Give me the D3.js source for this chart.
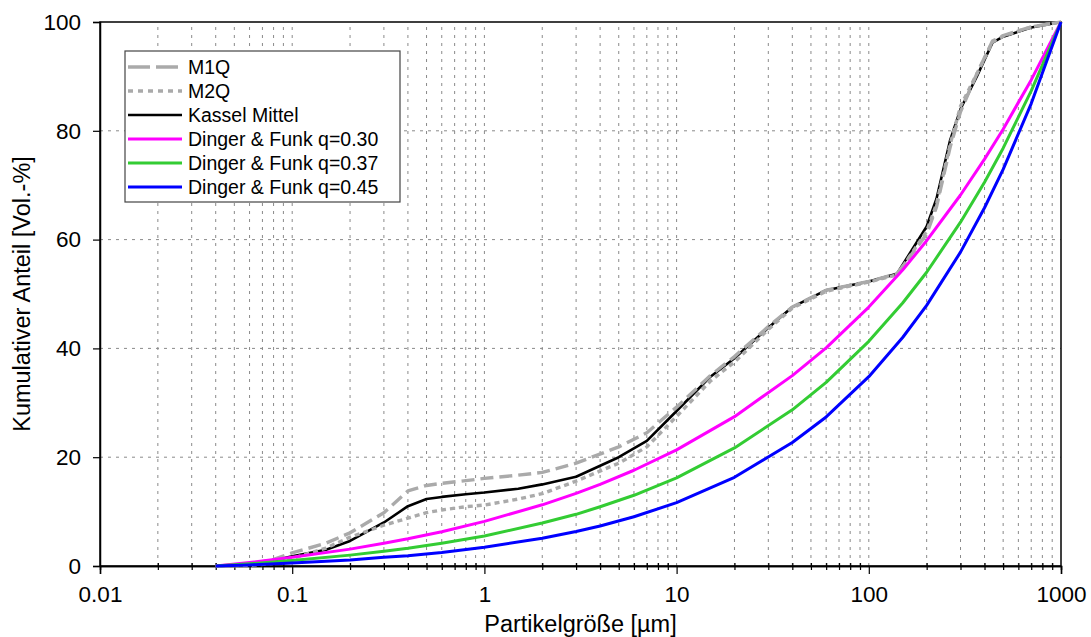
<!DOCTYPE html>
<html><head><meta charset="utf-8">
<script src="https://cdn.jsdelivr.net/npm/d3@7"></script>
<style>
html,body{margin:0;padding:0;background:#fff;}
svg{display:block;font-family:"Liberation Sans",Arial,Helvetica,sans-serif;}
</style></head>
<body>
<svg id="chart" width="1091" height="637"></svg>
<script>
// ---- data ----
const measuredSizes = [0.04,0.06,0.08,0.1,0.15,0.2,0.3,0.4,0.5,0.6,0.8,1,1.5,2,3,5,7,10,15,20,30,40,60,100,140,200,225,265,300,365,440,500,700,1000];
const kasselMittel = [0,0.4,1.0,1.8,3.0,4.6,8.0,11.0,12.3,12.7,13.2,13.5,14.2,15.0,16.4,20.0,23.0,28.5,34.8,38.2,43.8,47.6,50.7,52.3,53.7,62.4,67.5,78.3,84.0,90.0,96.2,97.3,99.0,100];
const m1q = [0,0.3,1.2,2.4,4.2,6.1,9.8,13.8,14.8,15.2,15.7,16.1,16.7,17.2,18.9,21.9,24.5,29.2,35.0,38.5,44.0,47.6,50.7,52.3,53.7,61.0,66.0,77.0,83.5,90.5,96.5,97.5,99.1,100];
const m2q = [0,0.1,0.5,1.4,3.3,5.3,7.5,8.8,9.8,10.3,10.9,11.2,12.3,13.3,15.6,18.9,21.9,27.5,34.0,37.5,43.5,47.4,50.5,52.2,53.5,61.5,66.5,77.5,84.5,90.5,96.3,97.4,99.1,100];

const dfSizes = [0.04,0.06,0.1,0.2,0.3,0.4,0.6,1,2,3,4,6,10,20,40,60,100,150,200,300,400,500,700,1000];
const df030 = [0,0.65,1.6,3.1,4.2,5.0,6.3,8.2,11.25,13.35,15.0,17.6,21.35,27.45,35.0,40.1,47.6,54.4,59.8,68.2,74.8,80.3,89.35,100];
const df037 = [0,0.4,1.0,2.0,2.7,3.25,4.2,5.5,7.9,9.5,10.9,13.0,16.2,21.7,28.7,33.75,41.3,48.35,54.0,63.2,70.55,76.8,87.35,100];
const df045 = [0,0.2,0.55,1.1,1.6,1.9,2.5,3.45,5.1,6.35,7.35,9.05,11.65,16.3,22.7,27.4,34.8,42.0,47.9,57.7,65.85,72.9,85.0,100];

const xMajorTicks = [0.01,0.1,1,10,100,1000];
const xTickLabels = ["0.01","0.1","1","10","100","1000"];
const yTicks = [0,20,40,60,80,100];

const seriesNames = ["M1Q","M2Q","Kassel Mittel","Dinger & Funk q=0.30","Dinger & Funk q=0.37","Dinger & Funk q=0.45"];

// ---- chart ----
const svg = d3.select("#chart");
const x = d3.scaleLog().domain([0.01,1000]).range([100,1061]);
const y = d3.scaleLinear().domain([0,100]).range([566,22]);

const minorTicks = [];
[0.01,0.1,1,10,100].forEach(b=>{for(let k=2;k<=9;k++) minorTicks.push(+(b*k).toPrecision(3));});

const gridColor = "#8a8a8a";
const grid = svg.append("g");
grid.selectAll("line.vx").data(minorTicks.concat(xMajorTicks.slice(1,-1))).join("line")
  .attr("x1",d=>x(d)).attr("x2",d=>x(d)).attr("y1",y(0)).attr("y2",y(100))
  .attr("stroke",gridColor).attr("stroke-width",1).attr("stroke-dasharray","3,5");
grid.selectAll("line.hy").data(yTicks.slice(1,-1)).join("line")
  .attr("x1",x(0.01)).attr("x2",x(1000)).attr("y1",d=>y(d)).attr("y2",d=>y(d))
  .attr("stroke",gridColor).attr("stroke-width",1).attr("stroke-dasharray","3,5");

// frame
svg.append("rect").attr("x",x(0.01)).attr("y",y(100)).attr("width",x(1000)-x(0.01)).attr("height",y(0)-y(100))
  .attr("fill","none").attr("stroke","#000").attr("stroke-width",1.5);

// axes
const xAxis = d3.axisBottom(x).tickValues(xMajorTicks).tickFormat((d,i)=>xTickLabels[i]).tickSize(8).tickPadding(12);
const gx = svg.append("g").attr("transform",`translate(0,${y(0)})`).call(xAxis);
const gxm = svg.append("g").attr("transform",`translate(0,${y(0)})`)
  .call(d3.axisBottom(x).tickValues(minorTicks).tickFormat("").tickSize(4));
gxm.selectAll(".tick line").attr("y1",-3);
const yAxis = d3.axisLeft(y).tickValues(yTicks).tickSize(7).tickPadding(12);
const gy = svg.append("g").attr("transform",`translate(${x(0.01)},0)`).call(yAxis);
[gx,gxm,gy].forEach(g=>{
  g.select(".domain").attr("stroke","#000").attr("stroke-width",1.5);
  g.selectAll(".tick line").attr("stroke","#000").attr("stroke-width",1.2);
  g.selectAll(".tick text").attr("font-size",22.5).attr("fill","#000").attr("font-family","Liberation Sans, Arial, sans-serif");
});

// axis titles
svg.append("text").attr("x",(x(0.01)+x(1000))/2).attr("y",632).attr("text-anchor","middle")
  .attr("font-size",23.5).attr("fill","#000").text("Partikelgröße [µm]");
svg.append("text").attr("transform",`translate(30,${(y(0)+y(100))/2}) rotate(-90)`).attr("text-anchor","middle")
  .attr("font-size",23.5).attr("fill","#000").text("Kumulativer Anteil [Vol.-%]");

// lines
const lineGen = (sizes)=> d3.line().x((d,i)=>x(sizes[i])).y(d=>y(d));
const series = [
  {name:seriesNames[2], sizes:measuredSizes, vals:kasselMittel, color:"#000", w:2.6, dash:null, legDash:null},
  {name:seriesNames[0], sizes:measuredSizes, vals:m1q, color:"#aaaaaa", w:3.4, dash:"13,6", legDash:"22,6"},
  {name:seriesNames[1], sizes:measuredSizes, vals:m2q, color:"#aaaaaa", w:3.4, dash:"5,4", legDash:"5,5"},
  {name:seriesNames[3], sizes:dfSizes, vals:df030, color:"#ff00ff", w:3, dash:null, legDash:null},
  {name:seriesNames[4], sizes:dfSizes, vals:df037, color:"#33cc33", w:3, dash:null, legDash:null},
  {name:seriesNames[5], sizes:dfSizes, vals:df045, color:"#0000ff", w:3, dash:null, legDash:null},
];
const lg = svg.append("g");
series.forEach(s=>{
  lg.append("path").datum(s.vals).attr("d",lineGen(s.sizes)).attr("fill","none")
    .attr("stroke",s.color).attr("stroke-width",s.w).attr("stroke-linejoin","round")
    .attr("stroke-dasharray",s.dash);
});

// legend
const legendOrder = [1,2,0,3,4,5];
const leg = svg.append("g");
leg.append("rect").attr("x",125).attr("y",51).attr("width",275).attr("height",151)
  .attr("fill","#fff").attr("stroke","#444").attr("stroke-width",1.2);
legendOrder.forEach((si,i)=>{
  const s = series[si];
  const yy = 67 + i*24;
  leg.append("line").attr("x1",128).attr("x2",182).attr("y1",yy).attr("y2",yy)
    .attr("stroke",s.color).attr("stroke-width",s.w).attr("stroke-dasharray",s.legDash);
  leg.append("text").attr("x",188).attr("y",yy+7).attr("font-size",19.5).attr("fill","#000").text(s.name);
});
</script>
</body></html>
